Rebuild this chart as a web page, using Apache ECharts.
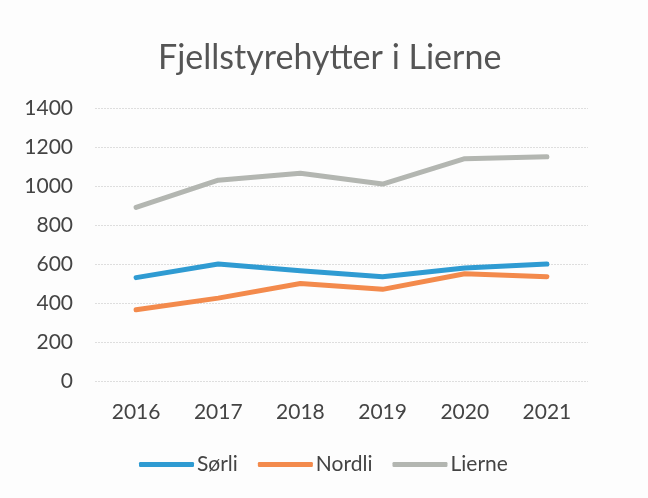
<!DOCTYPE html>
<html><head><meta charset="utf-8">
<script src="https://cdn.jsdelivr.net/npm/echarts@6/dist/echarts.min.js"></script>
<style>html,body{margin:0;padding:0;background:#fdfdfd}#c{width:648px;height:498px}</style>
</head><body><div id="c"></div>
<script>
const categories = ['2016','2017','2018','2019','2020','2021'];
const sorli = [530, 600, 565, 535, 580, 600];
const nordli = [365, 425, 500, 470, 550, 535];
const lierne = [890, 1030, 1065, 1010, 1140, 1150];
const yTicks = [0, 200, 400, 600, 800, 1000, 1200, 1400];

const font = 'Lato, "Open Sans", sans-serif';
const chart = echarts.init(document.getElementById('c'), null, {renderer:'canvas'});
const mk = (name, data, color) => ({
  name, type:'line', data, symbol:'none', smooth:false,
  lineStyle:{color, width:5, cap:'round', join:'round'}, itemStyle:{color}
});
chart.setOption({
  backgroundColor:'#fdfdfd',
  animation:false,
  title:{text:'Fjellstyrehytter i Lierne', left:153, top:36,
    textStyle:{fontFamily:font, fontSize:34, fontWeight:'normal', color:'#555555'}},
  legend:{bottom:18, left:134, itemWidth:55, itemHeight:5, itemGap:20, icon:'roundRect',
    textStyle:{fontFamily:font, fontSize:21, color:'#444444', padding:[0,0,0,-2]},
    data:['Sørli','Nordli','Lierne']},
  grid:{left:95, right:60, top:108, bottom:117, containLabel:false},
  xAxis:{type:'category', data:categories, boundaryGap:true,
    axisLine:{show:false}, axisTick:{show:false},
    axisLabel:{fontFamily:font, fontSize:21, color:'#444444', margin:21}},
  yAxis:{type:'value', min:yTicks[0], max:yTicks[yTicks.length-1], interval:200,
    axisLine:{show:false}, axisTick:{show:false},
    axisLabel:{fontFamily:font, fontSize:21, color:'#444444', margin:22, formatter:v=>String(v)},
    splitLine:{lineStyle:{color:'#dedede', width:1, type:[2,1]}}},
  series:[mk('Sørli', sorli, '#2f9bd2'), mk('Nordli', nordli, '#f38a4c'), mk('Lierne', lierne, '#b3b6b1')]
});
</script></body></html>
